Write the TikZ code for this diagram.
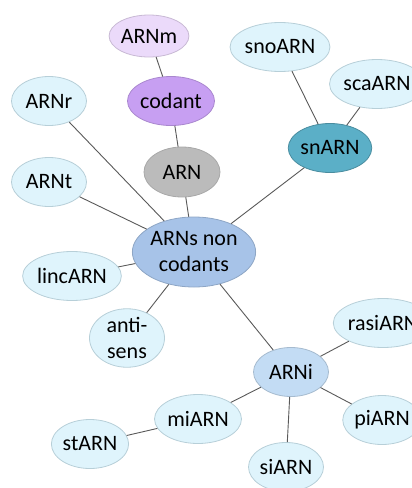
\documentclass[tikz,border=0pt]{standalone}
\usepackage{fontspec}
\setmainfont{Carlito}
\usetikzlibrary{shapes.geometric}
\definecolor{leafcol}{HTML}{DFF4FC}
\definecolor{leafline}{HTML}{B7CFD8}
\definecolor{hubcol}{HTML}{A7C3E8}
\definecolor{icol}{HTML}{C3DCF4}
\definecolor{arncol}{HTML}{BBBBBB}
\definecolor{codcol}{HTML}{C79FF2}
\definecolor{mcol}{HTML}{EBDAFA}
\definecolor{sncol}{HTML}{5BAFC7}
\begin{document}
\begin{tikzpicture}[x=1pt,y=-1pt]
		\tikzset{rnanode/.style={ellipse,draw=leafline,fill=leafcol,line width=0.8pt,inner sep=0pt,minimum width=75,minimum height=49,font=\fontsize{22}{26}\selectfont,text=black,align=center},
			rnalink/.style={draw=black!65,line width=0.9pt}}
		\useasboundingbox (0,0) rectangle (412,488);
		\clip (0,0) rectangle (412,488);
		%Begin nodes
		\node[rnanode,fill=hubcol,draw=hubcol!85!black,minimum width=108,minimum height=70] (ncod) at (194,252) {ARNs non\\codants};
		\node[rnanode,fill=arncol,draw=arncol!90!black,minimum width=76,minimum height=50] (arn) at (182,172) {ARN};
		\node[rnanode,fill=codcol,draw=codcol!85!black,minimum width=71] (cod) at (171,101) {codant};
		\node[rnanode,fill=mcol,draw=mcol!85!black,minimum width=76,minimum height=42] (arnm) at (149,36) {ARNm};
		\node[rnanode] (arnr) at (49,101) {ARNr};
		\node[rnanode] (arnt) at (49,182) {ARNt};
		\node[rnanode] (linc) at (72,276) {lincARN};
		\node[rnanode,minimum height=50] (anti) at (127,338) {anti-\\sens};
		\node[rnanode,fill=sncol,draw=sncol!80!black] (snarn) at (330,148) {snARN};
		\node[rnanode] (sno) at (280,47) {snoARN};
		\node[rnanode] (sca) at (377,84) {scaARN};
		\node[rnanode,fill=icol,draw=icol!85!black] (arni) at (291,372) {ARNi};
		\node[rnanode] (rasi) at (383,323) {rasiARN};
		\node[rnanode] (pi) at (382,420) {piARN};
		\node[rnanode] (si) at (286,467) {siARN};
		\node[rnanode] (mi) at (198,419) {miARN};
		\node[rnanode] (st) at (90,444) {stARN};
		%Begin links
		\draw[rnalink] (arnm) -- (cod);
		\draw[rnalink] (cod) -- (arn);
		\draw[rnalink] (arn) -- (ncod);
		\draw[rnalink] (arnr) -- (ncod);
		\draw[rnalink] (arnt) -- (ncod);
		\draw[rnalink] (linc) -- (ncod);
		\draw[rnalink] (anti) -- (ncod);
		\draw[rnalink] (snarn) -- (ncod);
		\draw[rnalink] (sno) -- (snarn);
		\draw[rnalink] (sca) -- (snarn);
		\draw[rnalink] (ncod) -- (arni);
		\draw[rnalink] (arni) -- (rasi);
		\draw[rnalink] (arni) -- (pi);
		\draw[rnalink] (arni) -- (si);
		\draw[rnalink] (arni) -- (mi);
		\draw[rnalink] (mi) -- (st);
\end{tikzpicture}
\end{document}
